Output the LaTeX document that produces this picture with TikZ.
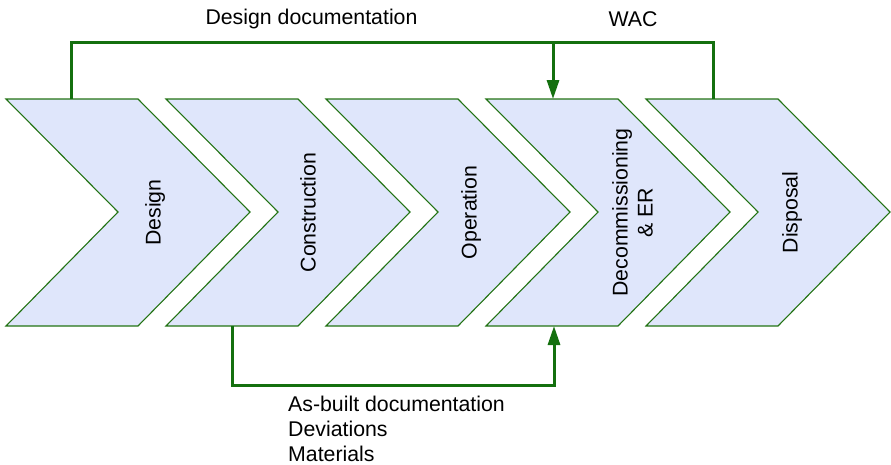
\documentclass[tikz,border=0pt]{standalone}
\usepackage{fontspec}
\setmainfont{Liberation Sans}
\usetikzlibrary{arrows.meta}
\definecolor{chfill}{RGB}{223,230,251}
\definecolor{chline}{RGB}{35,115,20}
\definecolor{conn}{RGB}{20,112,15}
\begin{document}
\begin{tikzpicture}[x=1pt,y=-1pt,
  chev/.style={fill=chfill,draw=chline,line width=1.1pt,line join=miter},
  lbl/.style={font=\fontsize{21.3}{25}\selectfont,inner sep=0pt,align=center},
  connline/.style={draw=conn,line width=3pt},
  connarrow/.style={connline,-{Triangle[length=19pt,width=12pt]}}]
\useasboundingbox (0,0) rectangle (891,464);
\foreach \i/\nm in {0/c1,1/c2,2/c3,3/c4,4/c5}{
  \pgfmathsetmacro{\dx}{160*\i}
  \begin{scope}[xshift=\dx]
    \draw[chev] (6,99) -- (138,99) -- (250,212) -- (138,326) -- (6,326) -- (118,212) -- cycle;
    \coordinate (\nm-tl) at (6,99);
  \end{scope}
}
\node[lbl,rotate=90] (t1) at (155,212.5) {Design};
\node[lbl,rotate=90] (t2) at (308,212.5) {Construction};
\node[lbl,rotate=90] (t3) at (471,212.5) {Operation};
\node[lbl,rotate=90] (t4) at (632.5,212.5) {Decommissioning\\\& ER};
\node[lbl,rotate=90] (t5) at (792,212.5) {Disposal};
% connector anchor points
\coordinate (dTop) at (71,99);
\coordinate (wTop) at (713,99);
\coordinate (decTop) at (553,99);
\coordinate (conBot) at (232,326);
\coordinate (decBot) at (554,326);
\coordinate (topJ) at (553,42);
\draw[connline,line cap=butt,line join=miter] (dTop) -- (71,42) -- (713,42) -- (wTop);
\draw[connarrow] (topJ) -- (decTop);
\draw[connarrow,line join=miter] (conBot) -- (232,385) -- (554,385) -- (decBot);
\node[lbl] (ldes) at (311.5,19) {Design documentation};
\node[lbl] (lwac) at (633,19) {WAC};
\node[lbl,align=left,anchor=north west] (lasb) at (288,396) {As-built documentation\\Deviations\\Materials};
\end{tikzpicture}
\end{document}
